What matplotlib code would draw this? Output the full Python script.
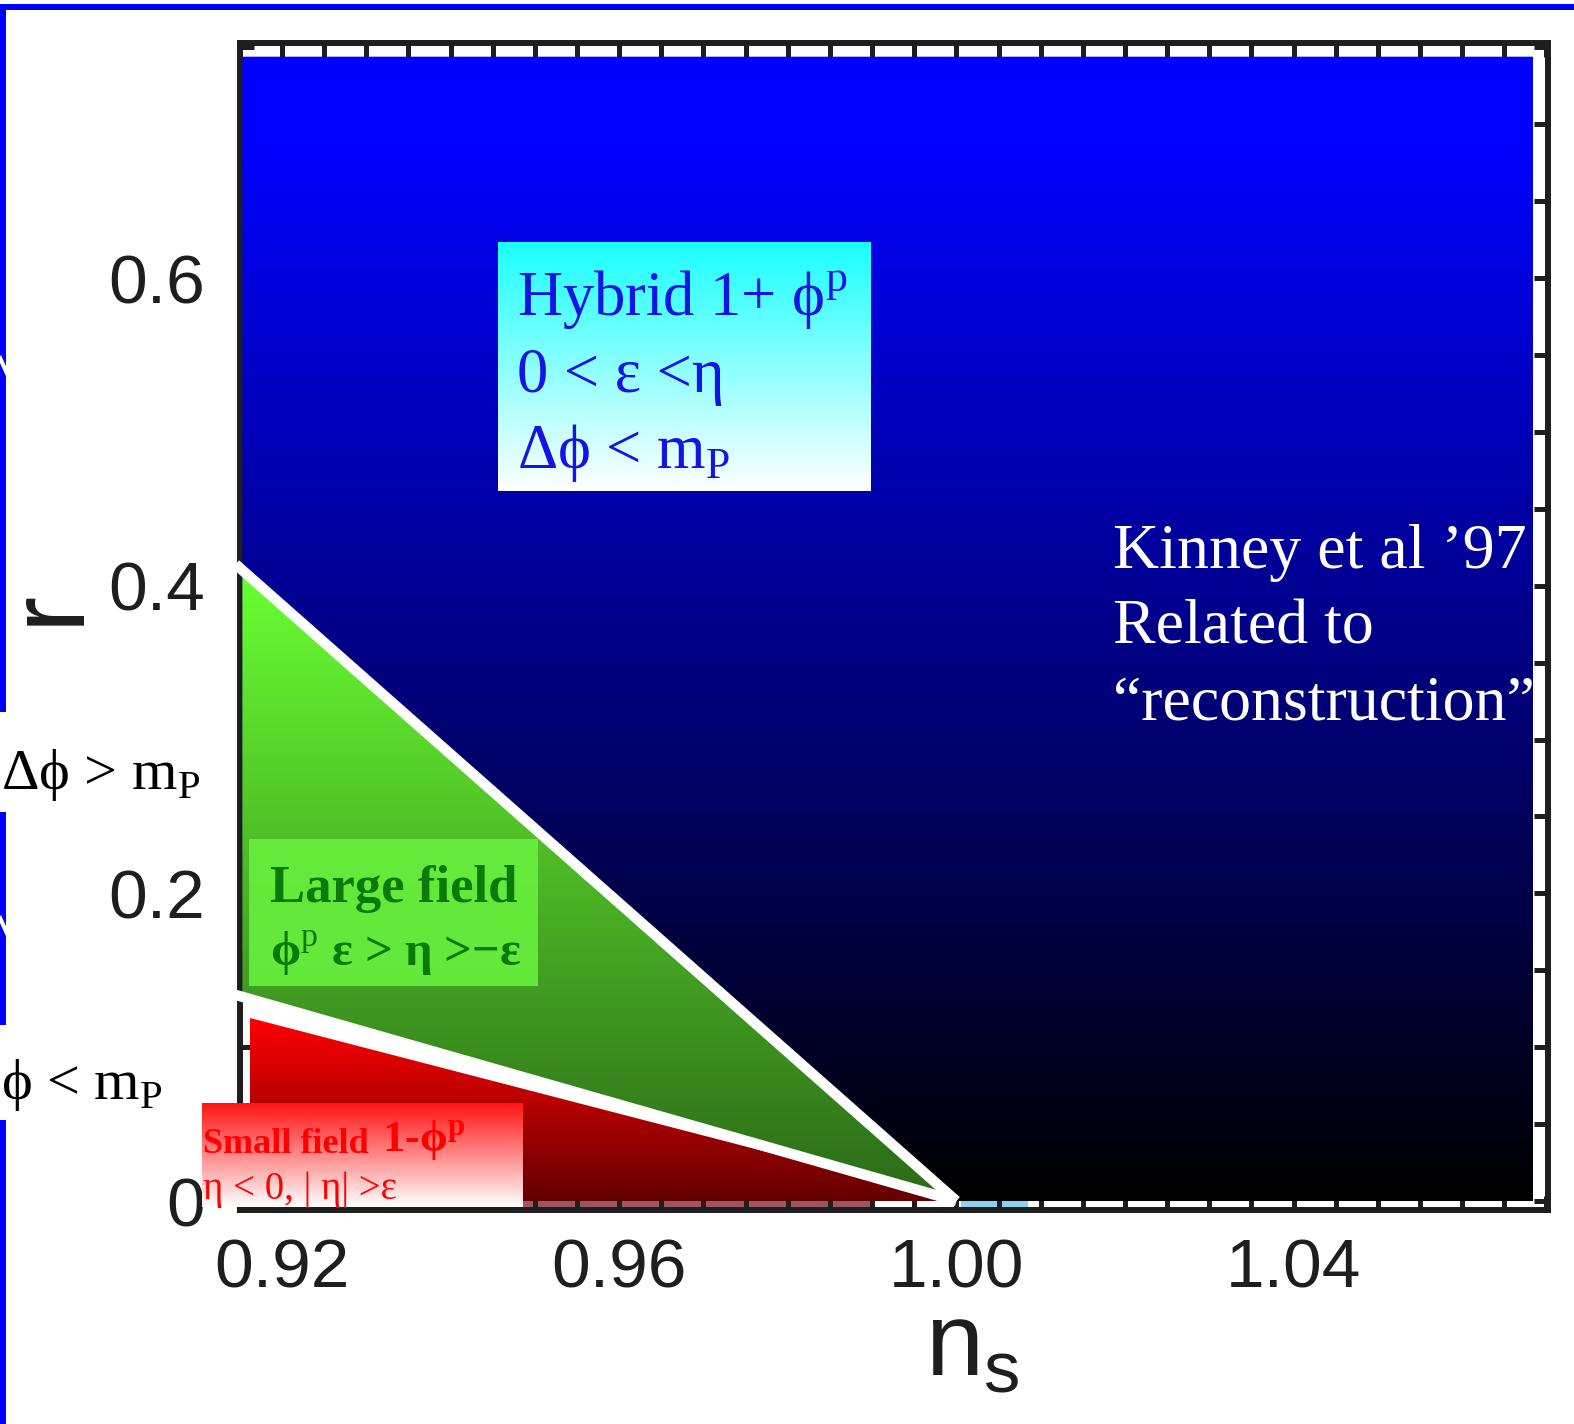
import numpy as np
import matplotlib.pyplot as plt
from matplotlib.colors import to_rgb
from matplotlib.patches import Polygon, Rectangle
from matplotlib.ticker import MultipleLocator

plt.rcParams['font.family'] = ['Liberation Sans', 'DejaVu Sans']
plt.rcParams['mathtext.fontset'] = 'custom'
plt.rcParams['mathtext.rm'] = 'Liberation Serif'
plt.rcParams['mathtext.bf'] = 'Liberation Serif:bold'
plt.rcParams['mathtext.sf'] = 'Liberation Sans'

SERIF = ['Liberation Serif', 'DejaVu Serif']
INK = '#1e1e1e'
W, H = 1574, 1424

# ── axis data ────────────────────────────────────────────────────────────────
ns_lim = (0.91502, 1.07018)
r_lim = (-0.00585, 0.7529)
ns_ticks = [0.92, 0.96, 1.00, 1.04]
ns_ticklabels = ['0.92', '0.96', '1.00', '1.04']
r_ticks = [0.0, 0.2, 0.4, 0.6]
r_ticklabels = ['0', '0.2', '0.4', '0.6']

# ── model-class boundaries (straight lines meeting at ns = 1, r = 0) ────────
hybrid_line_ns = [0.9145, 1.0]
hybrid_line_r = [0.414, 0.0]
small_line_ns = [0.9145, 1.0]
small_line_r = [0.134, 0.0]

# ── shaded regions ───────────────────────────────────────────────────────────
hybrid_ns = [0.9153, 1.0684]
hybrid_r = [0.0, 0.744]
large_ns_left = 0.9153
small_ns = [0.9162, 0.9162, 1.0]
small_r = [0.119, 0.0, 0.0]
small_strip_ns = [0.9162, 0.99]
blue_strip_ns = [1.0006, 1.0085]


def vgradient(axis, extent, top, bottom, zorder=3, alpha=1.0, clip=None):
    t = np.linspace(0, 1, 256)[:, None, None]
    c0, c1 = np.array(to_rgb(top)), np.array(to_rgb(bottom))
    img = c0 + (c1 - c0) * t
    im = axis.imshow(img, extent=extent, origin='upper', aspect='auto',
                     interpolation='bilinear', zorder=zorder, alpha=alpha)
    if clip is not None:
        im.set_clip_path(clip)
    return im


fig = plt.figure(figsize=(W / 100, H / 100), dpi=100)
ax = fig.add_axes([240 / W, 1 - 1210 / H, (1548 - 240) / W, (1210 - 43) / H])

# hybrid region: blue fading to black towards r = 0, kept above the
# small-field boundary so the wedge below it stays white
r_small_left = np.interp(hybrid_ns[0], small_line_ns, small_line_r)
blue_poly = Polygon([(hybrid_ns[0], hybrid_r[1]), (hybrid_ns[1], hybrid_r[1]),
                     (hybrid_ns[1], hybrid_r[0]), (small_line_ns[1], small_line_r[1]),
                     (hybrid_ns[0], r_small_left)],
                    closed=True, facecolor='none', edgecolor='none',
                    transform=ax.transData)
ax.add_patch(blue_poly)
rr = np.linspace(hybrid_r[1], hybrid_r[0], 400)
blue = np.zeros((rr.size, 1, 3))
blue[:, 0, 2] = np.clip(rr / 0.69, 0, 1)
im = ax.imshow(blue, extent=(hybrid_ns[0], hybrid_ns[1], hybrid_r[0], hybrid_r[1]),
               origin='upper', aspect='auto', interpolation='bilinear', zorder=3)
im.set_clip_path(blue_poly)

# large-field wedge
r_top = np.interp(large_ns_left, hybrid_line_ns, hybrid_line_r)
r_bot = np.interp(large_ns_left, small_line_ns, small_line_r)
green_poly = Polygon([(large_ns_left, r_top), (large_ns_left, r_bot), (1.0, 0.0)],
                     closed=True, facecolor='none', edgecolor='none',
                     transform=ax.transData)
ax.add_patch(green_poly)
vgradient(ax, (large_ns_left, 1.0, 0.0, r_top), '#6aff33', '#2c6a18',
          zorder=4, clip=green_poly)

# small-field wedge
red_poly = Polygon(list(zip(small_ns, small_r)), closed=True, facecolor='none',
                   edgecolor='none', transform=ax.transData)
ax.add_patch(red_poly)
vgradient(ax, (small_ns[0], 1.0, 0.0, small_r[0]), '#ff0000', '#640000',
          zorder=4, clip=red_poly)

# tinted strips below r = 0
ax.fill_between(small_strip_ns, r_lim[0], 0, color='#9c5564', lw=0, zorder=1)
ax.fill_between(blue_strip_ns, r_lim[0], 0, color='#8ecff2', lw=0, zorder=1)

# boundary lines
ax.plot(hybrid_line_ns, hybrid_line_r, color='white', lw=7.5, zorder=6,
        clip_on=False, solid_capstyle='butt')
ax.plot(small_line_ns, small_line_r, color='white', lw=7.5, zorder=6,
        clip_on=False, solid_capstyle='butt')

ax.set_xlim(*ns_lim)
ax.set_ylim(*r_lim)
ax.set_xticks(ns_ticks, ns_ticklabels)
ax.set_yticks(r_ticks, r_ticklabels)
ax.xaxis.set_minor_locator(MultipleLocator(0.005))
ax.yaxis.set_minor_locator(MultipleLocator(0.05))
ax.tick_params(which='both', direction='in', top=True, right=True,
               length=10, width=3.6, color=INK)
ax.tick_params(axis='x', labelsize=50, pad=20, labelcolor=INK)
ax.tick_params(axis='y', labelsize=50, pad=25, labelcolor=INK)
for s in ax.spines.values():
    s.set_linewidth(4.3)
    s.set_color(INK)

# ── overlay in pixel units for the labels and boxes ─────────────────────────
deco = fig.add_axes([0, 0, 1, 1], zorder=5)
deco.set_xlim(0, W)
deco.set_ylim(H, 0)
deco.axis('off')

# slide frame
deco.add_patch(Rectangle((0, 4), W, 6, color='#0000ff', lw=0))
for y0, y1 in [(4, 712), (812, 1025), (1120, H)]:
    deco.add_patch(Rectangle((0, y0), 6, y1 - y0, color='#0000ff', lw=0))
deco.plot([0, 10], [358, 380], color='white', lw=3)
deco.plot([0, 10], [918, 940], color='white', lw=3)

# hybrid box
vgradient(deco, (498, 871, 491, 242), '#1affff', '#ffffff', zorder=2)
hy_kw = dict(family=SERIF, fontsize=45, color='#1414e6', va='baseline', zorder=3)
deco.text(517, 315, 'Hybrid 1+ ϕ$^{\\rm p}$', **hy_kw)
deco.text(517, 392, '0 < ε <η', **hy_kw)
deco.text(517, 468, 'Δϕ < m$_{\\rm P}$', **hy_kw)

# reconstruction note
kn_kw = dict(family=SERIF, fontsize=46, color='white', va='baseline')
deco.text(1113, 568, 'Kinney et al ’97', **kn_kw)
deco.text(1113, 644, 'Related to', **kn_kw)
deco.text(1113, 720, '“reconstruction”', **kn_kw)

# large-field box
deco.add_patch(Rectangle((249, 839), 289, 147, facecolor='#68f03e', alpha=0.9,
                         lw=0, zorder=2))
lf_kw = dict(family=SERIF, color='#0b7a0b', weight='bold', va='baseline', zorder=3)
deco.text(270, 902, 'Large field', fontsize=38, **lf_kw)
deco.text(270, 965, 'ϕ$^{\\rm p}$ ε > η >−ε', fontsize=35, **lf_kw)

# small-field box
vgradient(deco, (202, 523, 1207, 1103), '#ff1414', '#ffffff', zorder=2)
sf_kw = dict(family=SERIF, color='#ff0000', va='baseline', zorder=3)
deco.text(203, 1153, 'Small field', fontsize=26, weight='bold', **sf_kw)
deco.text(382, 1153, '1-ϕ$^{\\mathbf{p}}$', fontsize=32, weight='bold', **sf_kw)
deco.text(203, 1199, 'η < 0, | η| >ε', fontsize=28, **sf_kw)

# field-excursion notes on the left
lt_kw = dict(family=SERIF, fontsize=42, color='black', va='baseline', ha='left')
deco.text(1, 789, 'Δϕ > m$_{\\rm P}$', **lt_kw)
deco.text(1, 1099, 'ϕ < m$_{\\rm P}$', **lt_kw)

# axis titles
deco.text(50, 607, 'r', fontsize=78, color=INK, rotation=90, ha='center', va='center')
deco.text(972, 1375, 'n$_{\\mathsf{s}}$', fontsize=75, color=INK, ha='center',
          va='baseline')

fig.savefig('out.png', dpi=100)
